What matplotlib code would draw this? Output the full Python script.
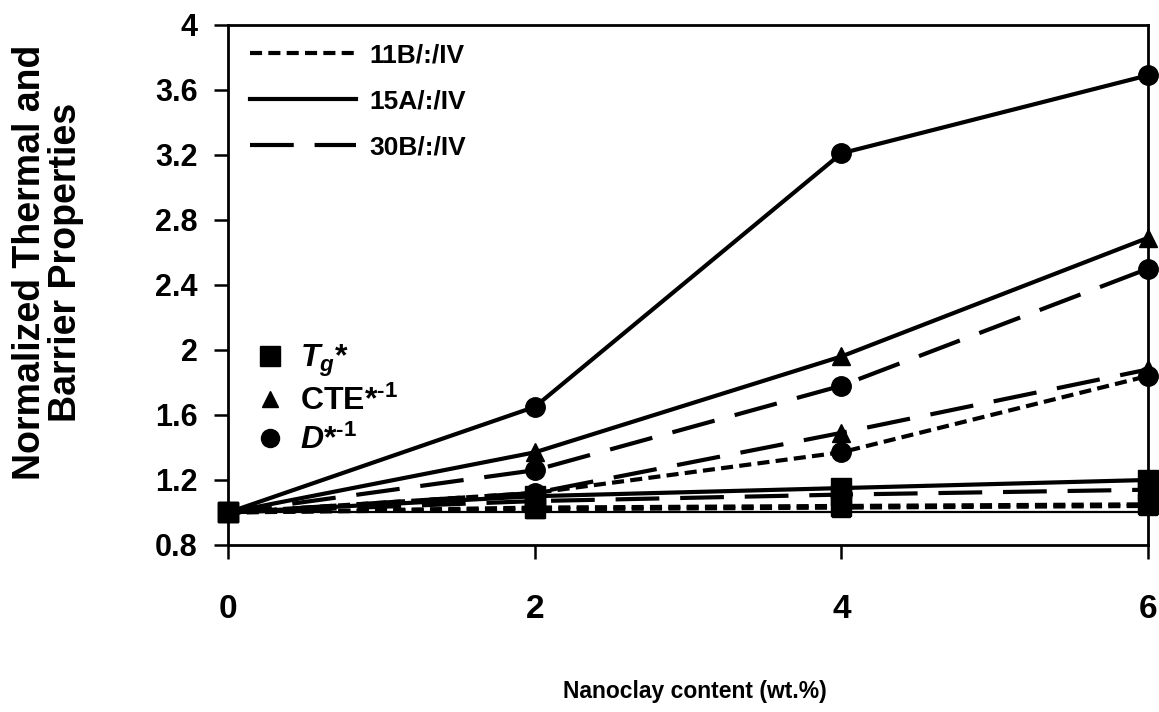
import matplotlib
matplotlib.use('Agg')
import matplotlib.pyplot as plt
from matplotlib.lines import Line2D

FONT = 'Liberation Sans'
plt.rcParams['font.family'] = FONT
plt.rcParams['font.weight'] = 'bold'
plt.rcParams['mathtext.fontset'] = 'custom'
plt.rcParams['mathtext.rm'] = FONT + ':bold'
plt.rcParams['mathtext.it'] = FONT + ':italic:bold'
plt.rcParams['mathtext.bf'] = FONT + ':bold'

# nanoclay content (wt.%)
content = [0, 2, 4, 6]

# normalized properties
tg_11b = [1.00, 1.03, 1.04, 1.05]
tg_15a = [1.00, 1.10, 1.15, 1.20]
tg_30b = [1.00, 1.07, 1.11, 1.14]
cte_11b = [1.00, 1.02, 1.03, 1.04]
cte_15a = [1.00, 1.37, 1.96, 2.69]
cte_30b = [1.00, 1.12, 1.49, 1.88]
d_11b = [1.00, 1.12, 1.37, 1.84]
d_15a = [1.00, 1.65, 3.21, 3.69]
d_30b = [1.00, 1.26, 1.78, 2.50]
baseline = [1.00, 1.00, 1.00, 1.00]

clay_labels = ['11B/:/IV', '15A/:/IV', '30B/:/IV']
prop_labels = [r'$T_g$*', r'CTE*$^{\text{-1}}$', r'$D$*$^{\text{-1}}$']

LW = 3.0
styles = {
    '11B': dict(dashes=(2.9, 1.5)),
    '15A': dict(linestyle='-'),
    '30B': dict(dashes=(10.5, 5.0)),
}
markers = {'tg': ('s', 15), 'cte': ('^', 13), 'd': ('o', 14)}

fig = plt.figure(figsize=(11.59, 7.12), dpi=100)
ax = fig.add_axes([0.197, 0.2346, 0.7935, 0.7304])

ax.plot(content, baseline, color='black', lw=1.6, zorder=1)

series = [
    ('11B', 'tg', tg_11b), ('11B', 'cte', cte_11b), ('11B', 'd', d_11b),
    ('30B', 'tg', tg_30b), ('30B', 'cte', cte_30b), ('30B', 'd', d_30b),
    ('15A', 'tg', tg_15a), ('15A', 'cte', cte_15a), ('15A', 'd', d_15a),
]
for clay, prop, vals in series:
    m, ms = markers[prop]
    ax.plot(content, vals, color='black', lw=LW, marker=m, markersize=ms,
            clip_on=False, zorder=3, **styles[clay])

ax.set_xlim(0, 6)
ax.set_ylim(0.8, 4)
ax.set_xticks(content)
ax.set_yticks([0.8, 1.2, 1.6, 2, 2.4, 2.8, 3.2, 3.6, 4])
ax.set_yticklabels(['0.8', '1.2', '1.6', '2', '2.4', '2.8', '3.2', '3.6', '4'])
ax.tick_params(axis='y', direction='out', length=10, width=1.8, labelsize=22, pad=12)
ax.tick_params(axis='x', direction='out', length=10, width=1.8, labelsize=24, pad=25)
for lab in ax.get_xticklabels() + ax.get_yticklabels():
    lab.set_fontweight('bold')
for side in ['top', 'right', 'left', 'bottom']:
    ax.spines[side].set_linewidth(2.0)

ax.set_xlabel('Nanoclay content (wt.%)', fontsize=16.5, fontweight='bold')
ax.xaxis.set_label_coords(0.507, -0.281)
ax.xaxis.label.set_verticalalignment('center')
ax.set_ylabel('Normalized Thermal and\nBarrier Properties', fontsize=27,
              fontweight='bold', linespacing=1.0)
ax.yaxis.set_label_coords(-0.196, 0.544)
ax.yaxis.label.set_verticalalignment('center')

# legend for nanoclay types (line styles)
line_handles = [Line2D([], [], color='black', lw=LW, **styles[k]) for k in ['11B', '15A', '30B']]
leg1 = ax.legend(line_handles, clay_labels, loc='upper left', frameon=False,
                 fontsize=19, handlelength=4.0, handletextpad=0.5,
                 labelspacing=0.84, bbox_to_anchor=(0.0124, 0.985), borderaxespad=0)
ax.add_artist(leg1)

# legend for properties (markers)
mk_handles = [Line2D([], [], color='black', ls='none', marker=markers[k][0],
                     markersize=markers[k][1] - 1) for k in ['tg', 'cte', 'd']]
ax.legend(mk_handles, prop_labels, loc='upper left', frameon=False,
          fontsize=23, handlelength=1.0, handletextpad=0.45, labelspacing=0.22,
          bbox_to_anchor=(0.014, 0.413), borderaxespad=0)

fig.savefig('out.png', dpi=100)
